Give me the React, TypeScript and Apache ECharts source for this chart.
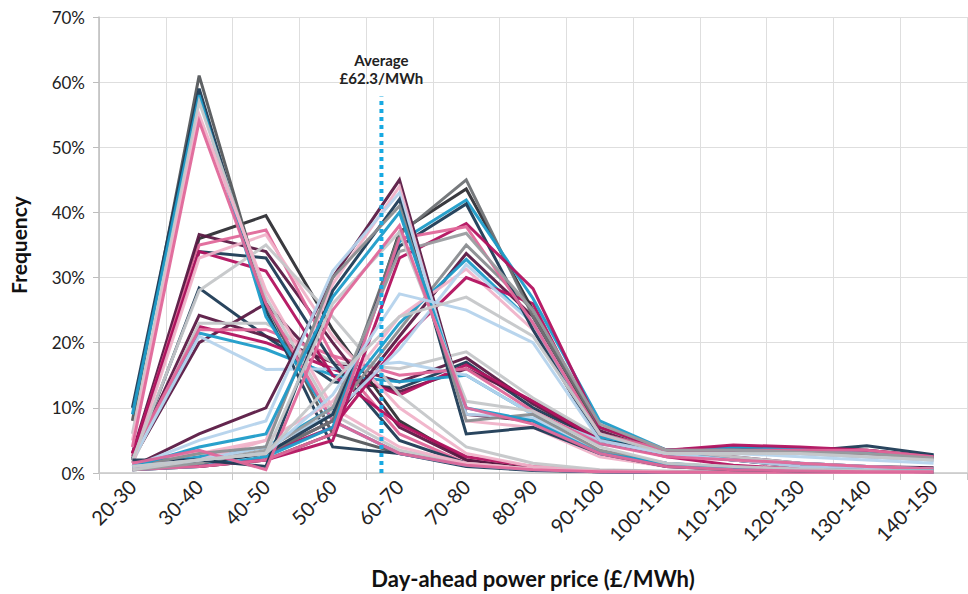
import React, { useEffect, useRef } from "react";
import * as echarts from "echarts";

// Price bands on the x axis
const CATEGORIES = [
  "20-30", "30-40", "40-50", "50-60", "60-70", "70-80", "80-90",
  "90-100", "100-110", "110-120", "120-130", "130-140", "140-150",
];

// Frequency (%) of each price band, one row per period
const TALL_LOW_PRICE_PEAK = [
  [8, 61, 26, 6, 3, 1.5, 0.5, 0.3, 0.2, 0.1, 0.1, 0.1, 0.1],
  [10, 59, 25, 4, 3, 1, 0.4, 0.2, 0.1, 0.1, 0.1, 0.1, 0.1],
  [9, 58, 24, 8, 3, 1.2, 0.5, 0.2, 0.1, 0.1, 0.1, 0.1, 0.1],
  [6, 57, 27, 9, 3.5, 1.5, 0.6, 0.3, 0.2, 0.1, 0.1, 0.1, 0.1],
  [5, 55, 28, 10, 4, 1.5, 0.6, 0.3, 0.2, 0.1, 0.1, 0.1, 0.1],
  [4, 54, 26, 8, 3, 1.2, 0.5, 0.2, 0.1, 0.1, 0.1, 0.1, 0.1],
];
const TALL_LOW_PRICE_COLORS = ["#55595c", "#1d3b55", "#1e9cc9", "#c5c7c9", "#f0b3c9", "#e0689a"];

const BROAD_LOW_PRICE_PEAK = [
  [2, 36, 39.5, 22, 8, 2, 0.6, 0.3, 0.2, 0.1, 0.1, 0.1, 0.1],
  [3, 36.6, 34, 20, 7, 2, 0.5, 0.3, 0.2, 0.1, 0.1, 0.1, 0.1],
  [2.5, 35, 37.3, 18, 6, 1.5, 0.5, 0.2, 0.1, 0.1, 0.1, 0.1, 0.1],
  [2, 34, 33, 17, 5, 1.5, 0.5, 0.2, 0.1, 0.1, 0.1, 0.1, 0.1],
  [3, 34, 31, 15, 7.5, 2.5, 1, 0.4, 0.2, 0.1, 0.1, 0.1, 0.1],
  [1.5, 33, 36.6, 21, 10, 3, 1, 0.4, 0.2, 0.1, 0.1, 0.1, 0.1],
  [2, 28, 35, 24, 12, 4, 1.5, 0.5, 0.3, 0.2, 0.1, 0.1, 0.1],
];
const BROAD_LOW_PRICE_COLORS = ["#2f2f35", "#5b1a45", "#e0689a", "#1d3b55", "#b3125f", "#f0b3c9", "#c5c7c9"];

const FLAT_MID_PRICE = [
  [1.5, 28.4, 21, 14, 13, 17, 10, 5, 3, 2, 1, 0.6, 0.4],
  [2, 20, 26, 15, 12.5, 16, 11, 5.5, 3, 2, 1, 0.6, 0.4],
  [2, 24.2, 21, 17, 14, 17.7, 10.6, 5, 3.5, 2.5, 1.5, 1, 0.8],
  [2.5, 22.5, 20, 16, 12, 16.6, 11, 5, 2.5, 1.2, 0.6, 0.4, 0.3],
  [2, 21.5, 19, 15, 14, 15, 9, 4.5, 3, 2, 1.5, 1, 0.6],
  [1.5, 23, 23, 17, 16, 18.6, 11.5, 5.6, 3.5, 2.5, 1.5, 1, 0.6],
  [2, 21, 15.9, 16, 17, 15, 9, 5, 3, 2, 1, 0.6, 0.4],
  [3, 22, 22, 18, 15, 16, 9.5, 4.5, 2.5, 2, 1.5, 1, 0.6],
];
const FLAT_MID_PRICE_COLORS = ["#1d3b55", "#5b1a45", "#5b1a45", "#b3125f", "#1e9cc9", "#c5c7c9", "#b5d3ec", "#e0689a"];

const PEAK_60_70 = [
  [1, 6, 10, 30, 45, 9, 8, 3, 1, 0.6, 0.4, 0.3, 0.3],
  [1.5, 3, 5, 29, 44, 8, 7, 2.5, 1, 0.5, 0.3, 0.2, 0.2],
  [1, 5, 8, 31, 43, 9, 8.5, 3, 1.2, 0.6, 0.4, 0.3, 0.3],
  [2, 2, 1, 28, 42, 6, 7, 3, 1, 0.5, 0.3, 0.3, 0.2],
  [1, 3, 4, 30, 41, 8, 9, 3.5, 1.5, 0.8, 0.5, 0.4, 0.3],
  [1, 4, 6, 27, 40, 10, 8, 3, 1.5, 0.8, 0.5, 0.4, 0.3],
  [0.5, 2, 3, 26, 37, 11, 9.5, 4, 1.5, 1, 0.6, 0.4, 0.3],
  [1.5, 3.5, 0.5, 25, 38, 10, 7.5, 3, 1, 0.5, 0.3, 0.2, 0.2],
];
const PEAK_60_70_COLORS = ["#5b1a45", "#f0b3c9", "#b5d3ec", "#1d3b55", "#8a8d90", "#1e9cc9", "#c5c7c9", "#e0689a"];

const PEAK_70_80 = [
  [0.5, 1, 2, 6, 37, 43.6, 25, 6, 3.5, 4, 3.5, 3.5, 2.5],
  [1, 1.5, 3, 8, 36.6, 45, 24, 7, 3.5, 3.5, 3.5, 3, 2.5],
  [0.5, 1, 2.5, 7, 35.5, 41.9, 26.8, 8, 3.5, 4, 3.8, 3.2, 2.7],
  [1, 1.5, 3, 9, 34.8, 41.3, 22, 5, 3.5, 3.3, 3.3, 4.2, 2.8],
  [1, 1, 2, 5, 33, 38.3, 28.3, 7, 3.5, 4.3, 4, 3.5, 2.5],
  [0.5, 1, 2, 6, 36, 37.8, 23, 6, 3.5, 3.5, 3.5, 3.5, 2.5],
  [0.5, 1.5, 3.5, 10, 34, 36.8, 25, 7.5, 3.5, 3.5, 3.2, 3, 2.3],
];
const PEAK_70_80_COLORS = ["#2f2f35", "#6f7275", "#1e9cc9", "#1d3b55", "#b3125f", "#e0689a", "#9a9da0"];

const LATE_RISE_70_80 = [
  [1, 2, 4, 9, 22, 35, 25, 6, 3.5, 3.5, 3.5, 3, 2.5],
  [1, 2, 3, 8, 21, 33.7, 24, 6.5, 3, 3.5, 3.5, 3, 2.5],
  [1, 2.5, 4, 10, 23, 32.8, 23, 5.5, 3.5, 3, 3, 2.5, 2],
  [1, 2, 5, 11, 24, 31.3, 22, 5, 3, 3, 3, 2.5, 2],
  [1.5, 2, 3, 7, 20, 30, 26, 6, 3.5, 3.5, 3.5, 3, 2.5],
  [1, 2, 4, 9, 19, 32, 23, 6, 3.5, 3, 3, 2.5, 2],
];
const LATE_RISE_70_80_COLORS = ["#8a8d90", "#5b1a45", "#1e9cc9", "#f0b3c9", "#b3125f", "#b5d3ec"];

const BROAD_HIGH_PRICE = [
  [1, 2, 3, 12, 27.5, 25, 20, 5, 3, 3, 2.5, 2, 1.5],
  [1, 2, 3, 14, 24, 27, 21, 6, 3, 3, 3, 2.5, 2],
];
const BROAD_HIGH_PRICE_COLORS = ["#b5d3ec", "#c5c7c9"];

// Average day-ahead price (£/MWh) and the height its marker line reaches (%)
const AVERAGE_PRICE = 62.3;
const AVERAGE_MARKER_TOP = 57.8;
const PRICE_MIN = 20;
const PRICE_MAX = 150;

const GROUPS: [number[][], string[]][] = [
  [FLAT_MID_PRICE, FLAT_MID_PRICE_COLORS],
  [BROAD_LOW_PRICE_PEAK, BROAD_LOW_PRICE_COLORS],
  [TALL_LOW_PRICE_PEAK, TALL_LOW_PRICE_COLORS],
  [LATE_RISE_70_80, LATE_RISE_70_80_COLORS],
  [PEAK_70_80, PEAK_70_80_COLORS],
  [PEAK_60_70, PEAK_60_70_COLORS],
  [BROAD_HIGH_PRICE, BROAD_HIGH_PRICE_COLORS],
];

const FONT = "Lato, 'Open Sans', sans-serif";

export default function App() {
  const ref = useRef<HTMLDivElement>(null);

  useEffect(() => {
    if (!ref.current) return;
    const chart = echarts.init(ref.current, null, { renderer: "svg" });

    const lineSeries: any[] = [];
    GROUPS.forEach(([rows, colors], g) => {
      rows.forEach((row, i) => {
        lineSeries.push({
          name: `period-${g}-${i}`,
          type: "line",
          xAxisIndex: 0,
          yAxisIndex: 0,
          data: row,
          symbol: "none",
          smooth: false,
          silent: true,
          lineStyle: { color: colors[i], width: 3, opacity: 0.95, join: "miter" },
          z: 2,
        });
      });
    });

    const averageSeries = {
      name: "Average",
      type: "line",
      xAxisIndex: 1,
      yAxisIndex: 0,
      symbol: "circle",
      symbolSize: 1,
      showSymbol: true,
      silent: true,
      z: 5,
      lineStyle: { color: "#19a9e1", width: 4, type: [4, 4], cap: "butt" },
      itemStyle: { color: "rgba(0,0,0,0)", borderWidth: 0 },
      label: { show: false },
      data: [
        [AVERAGE_PRICE, 0],
        {
          value: [AVERAGE_PRICE, AVERAGE_MARKER_TOP],
          label: {
            show: true,
            position: "top",
            distance: 9,
            formatter: `Average\n£${AVERAGE_PRICE}/MWh`,
            fontFamily: FONT,
            fontWeight: "bold",
            fontSize: 15,
            lineHeight: 18,
            color: "#222",
            align: "center",
          },
        },
      ],
    };

    chart.setOption({
      animation: false,
      backgroundColor: "#ffffff",
      grid: { left: 94, right: 1, top: 17, bottom: 114, containLabel: false },
      xAxis: [
        {
          type: "category",
          data: CATEGORIES,
          boundaryGap: true,
          name: "Day-ahead power price (£/MWh)",
          nameLocation: "middle",
          nameGap: 94,
          nameTextStyle: { fontFamily: FONT, fontWeight: "bold", fontSize: 22, color: "#111" },
          axisLine: { show: true, lineStyle: { color: "#c8c8c8", width: 1.5 } },
          axisTick: { show: true, length: 7, lineStyle: { color: "#c8c8c8" } },
          splitLine: { show: true, lineStyle: { color: "#dedede", width: 1 } },
          axisLabel: {
            rotate: 45,
            interval: 0,
            margin: 10,
            fontFamily: FONT,
            fontSize: 20,
            color: "#222",
          },
        },
        {
          type: "value",
          min: PRICE_MIN,
          max: PRICE_MAX,
          show: false,
        },
      ],
      yAxis: {
        type: "value",
        min: 0,
        max: 70,
        interval: 10,
        name: "Frequency",
        nameLocation: "middle",
        nameGap: 70,
        nameRotate: 90,
        nameTextStyle: { fontFamily: FONT, fontWeight: "bold", fontSize: 21, color: "#111" },
        axisLine: { show: true, lineStyle: { color: "#bdbdbd", width: 1.5 } },
        axisTick: { show: true, length: 6, lineStyle: { color: "#bdbdbd" } },
        splitLine: { show: true, lineStyle: { color: "#dedede", width: 1 } },
        axisLabel: {
          formatter: "{value}%",
          margin: 14,
          fontFamily: FONT,
          fontSize: 17,
          color: "#222",
        },
      },
      series: [...lineSeries, averageSeries],
    });

    return () => chart.dispose();
  }, []);

  return (
    <div
      ref={ref}
      style={{ position: "absolute", left: 0, top: 0, width: 968, height: 594 }}
    />
  );
}
